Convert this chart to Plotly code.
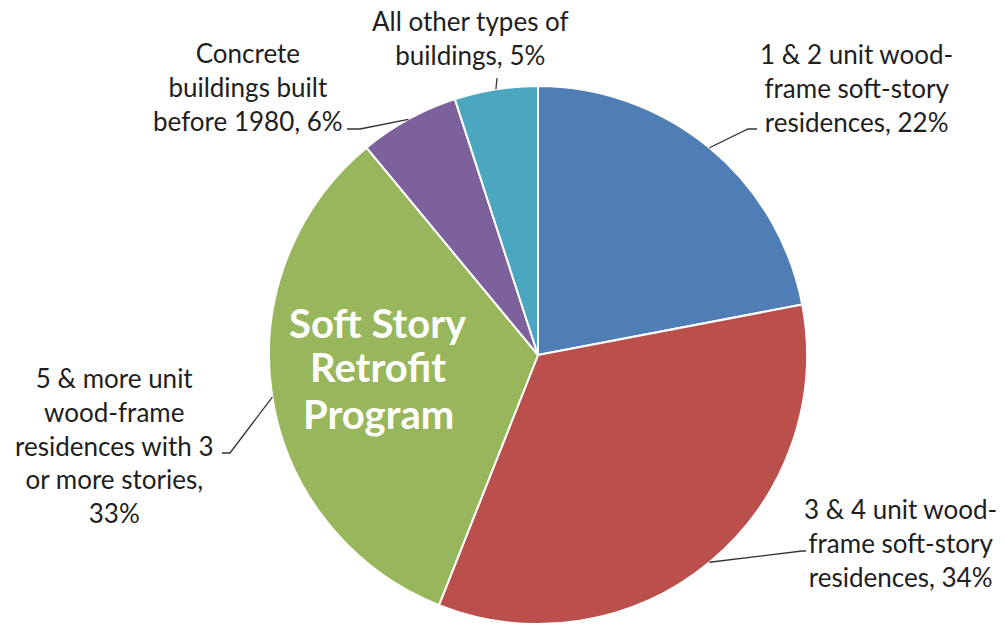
import math
import plotly.graph_objects as go

# ---- data ----
categories = [
    "1 & 2 unit wood-frame soft-story residences",
    "3 & 4 unit wood-frame soft-story residences",
    "5 & more unit wood-frame residences with 3 or more stories",
    "Concrete buildings built before 1980",
    "All other types of buildings",
]
shares = [22, 34, 33, 6, 5]
label_texts = [
    "1 & 2 unit wood-<br>frame soft-story<br>residences, 22%",
    "3 & 4 unit wood-<br>frame soft-story<br>residences, 34%",
    "5 & more unit<br>wood-frame<br>residences with 3<br>or more stories,<br>33%",
    "Concrete<br>buildings built<br>before 1980, 6%",
    "All other types of<br>buildings, 5%",
]
center_lines = ["Soft Story", "Retrofit", "Program"]
colors = ["#4F7DB6", "#BA4F4C", "#98B65B", "#7D619D", "#4BA6C0"]

# ---- layout constants (pixels) ----
W, H = 1005, 628
CX, CY, R = 538, 355, 269
FONT = "Lato, 'Open Sans', sans-serif"
TXT = "#1e1e1e"

def px(x):
    return x / W

def py(y):
    return 1 - y / H

# label placement (pixel centre of each text block) and leader elbow/end points
label_pos = [(856, 88), (900, 543), (114, 445), (248, 87), (470, 38)]
leader_elbow = [(748, 129), (802, 551), (230, 453), (360, 129), (497, 78)]
leader_end = [(757, 129), (806, 551), (222, 453), (347, 129), (497, 78)]

fig = go.Figure(
    go.Pie(
        labels=categories,
        values=shares,
        sort=False,
        direction="clockwise",
        rotation=0,
        textinfo="none",
        hoverinfo="label+percent",
        marker=dict(colors=colors, line=dict(color="white", width=2)),
        domain=dict(x=[px(CX - R), px(CX + R)], y=[py(CY + R), py(CY - R)]),
        showlegend=False,
    )
)

total = sum(shares)
cum = 0
shapes = []
annotations = []
for i, v in enumerate(shares):
    ang = 2 * math.pi * (cum + v / 2) / total
    cum += v
    ex = CX + R * math.sin(ang)
    ey = CY - R * math.cos(ang)
    (bx, by), (tx, ty) = leader_elbow[i], leader_end[i]
    shapes.append(dict(
        type="path", xref="paper", yref="paper",
        path=f"M {px(ex)} {py(ey)} L {px(bx)} {py(by)} L {px(tx)} {py(ty)}",
        line=dict(color="#333333", width=1.3),
    ))
    lx, ly = label_pos[i]
    annotations.append(dict(
        x=px(lx), y=py(ly), xref="paper", yref="paper",
        text=label_texts[i], showarrow=False, align="center",
        xanchor="center", yanchor="middle",
        font=dict(family=FONT, size=26, color=TXT),
    ))

center_y = [323, 367, 414]
for t, yy in zip(center_lines, center_y):
    annotations.append(dict(
        x=px(378), y=py(yy), xref="paper", yref="paper",
        text=f"<b>{t}</b>", showarrow=False,
        xanchor="center", yanchor="middle",
        font=dict(family=FONT, size=40, color="white"),
    ))

fig.update_layout(
    width=W, height=H,
    margin=dict(l=0, r=0, t=0, b=0),
    paper_bgcolor="white",
    plot_bgcolor="white",
    shapes=shapes,
    annotations=annotations,
)

fig.write_html(
    "out.html",
    config={"displayModeBar": False},
    post_script="document.body.style.margin='0';document.body.style.padding='0';",
)
